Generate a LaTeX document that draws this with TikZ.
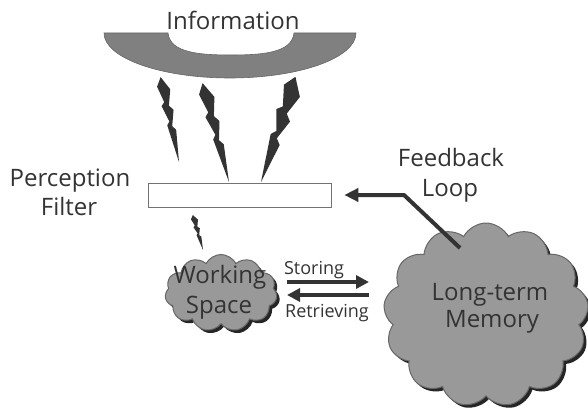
\documentclass[tikz,border=0pt]{standalone}
\usepackage{fontspec}
\setmainfont{Open Sans}
\usetikzlibrary{shapes.symbols,shadows,calc,arrows.meta}

\definecolor{ink}{gray}{0.2}
\definecolor{puff}{gray}{0.6}
\definecolor{band}{gray}{0.5}

% jagged lightning bolt from #1 (wide end) to #2 (tip), width #3 (in pt)
\newcommand\zapbolt[3]{%
  \fill[ink]
    ($(#1)!0.03*#3pt!-90:(#2)$)
    -- ($(#1)!0.16!(#2)!0.5*#3pt!90:(#2)$)
    -- ($(#1)!0.34!(#2)!0.14*#3pt!90:(#2)$)
    -- ($(#1)!0.40!(#2)!0.42*#3pt!90:(#2)$)
    -- ($(#1)!0.58!(#2)!0.06*#3pt!90:(#2)$)
    -- ($(#1)!0.63!(#2)!0.30*#3pt!90:(#2)$)
    -- (#2)
    -- ($(#1)!0.56!(#2)!0.30*#3pt!-90:(#2)$)
    -- ($(#1)!0.52!(#2)!0.08*#3pt!-90:(#2)$)
    -- ($(#1)!0.33!(#2)!0.42*#3pt!-90:(#2)$)
    -- ($(#1)!0.29!(#2)!0.16*#3pt!-90:(#2)$)
    -- ($(#1)!0.10!(#2)!0.45*#3pt!-90:(#2)$)
    -- cycle;}

\tikzset{
  lbl/.style={text=ink, inner sep=0pt, anchor=base},
  bigtxt/.style={lbl, font=\fontsize{24}{26}\selectfont},
  smalltxt/.style={lbl, font=\fontsize{18}{20}\selectfont},
  puffy/.style={cloud, cloud ignores aspect, inner sep=0pt, fill=puff,
    draw=black!60, line width=1pt,
    drop shadow={shadow xshift=3pt, shadow yshift=-3pt, fill=black!85, opacity=1}},
  fat/.style={ink, line width=4.5pt, -{Triangle[length=13pt,width=13pt]}},
}

\begin{document}
\begin{tikzpicture}[x=1pt, y=1pt]
\useasboundingbox (0,0) rectangle (588,410);

% the information band
\fill[band, draw=black!60, line width=0.6pt]
  (104,377) -- (168,377)
  .. controls (170,357) and (200,355) .. (231,355)
  .. controls (262,355) and (292,357) .. (294,377)
  -- (356,377) arc[start angle=0, end angle=-180, x radius=126pt, y radius=45pt]
  -- cycle;
\node[bigtxt] (info) at (233,380) {Information};

% perception filter
\node[draw=black!55, line width=0.6pt, fill=white, minimum width=183pt,
      minimum height=24pt, inner sep=0pt] (filter) at (239.5,215) {};
\node[bigtxt] (perc) at (70,223) {Perception};
\node[bigtxt] (filt) at (69,195) {Filter};

% bolts from the band down to the filter
\coordinate (b1t) at (161,333); \coordinate (b1p) at (179,248);
\coordinate (b2t) at (203,327); \coordinate (b2p) at (229,228);
\coordinate (b3t) at (296,333); \coordinate (b3p) at (261,228);
\zapbolt{b1t}{b1p}{13}
\zapbolt{b2t}{b2p}{15}
\zapbolt{b3t}{b3p}{20}

% small bolt from the filter down to working space
\coordinate (b4t) at (193,195); \coordinate (b4p) at (203,160);
\zapbolt{b4t}{b4p}{7}

% working space
\node[puffy, cloud puffs=11, cloud puff arc=125, minimum width=112pt,
      minimum height=77pt] (ws) at (221,117) {};
\node[bigtxt] at (220,127) {Working};
\node[bigtxt] at (219,97) {Space};

% long-term memory
\node[puffy, cloud puffs=13, cloud puff arc=125, minimum width=205pt,
      minimum height=184pt] (ltm) at (486,95) {};
\node[bigtxt] at (490,110) {Long-term};
\node[bigtxt] at (492,83) {Memory};

% storing / retrieving
\coordinate (sA) at (287,128); \coordinate (sB) at (369,128);
\coordinate (rA) at (369,115); \coordinate (rB) at (287,115);
\draw[fat] (sA) -- (sB);
\draw[fat] (rA) -- (rB);
\node[smalltxt] (stor) at (314,136) {Storing};
\node[smalltxt] (retr) at (327,93) {Retrieving};

% feedback loop
\coordinate (fbstart) at (460,162);
\coordinate (fbbend) at (404,215);
\coordinate (fbtip) at ($(filter.east)+(13,0)$);
\draw[ink, line width=4pt, line join=round, -{Triangle[length=14pt,width=13pt]}]
  (fbstart) -- (fbbend) -- (fbtip);
\node[bigtxt] (fb) at (451,243) {Feedback};
\node[bigtxt] (loop) at (450,214) {Loop};
\end{tikzpicture}
\end{document}
